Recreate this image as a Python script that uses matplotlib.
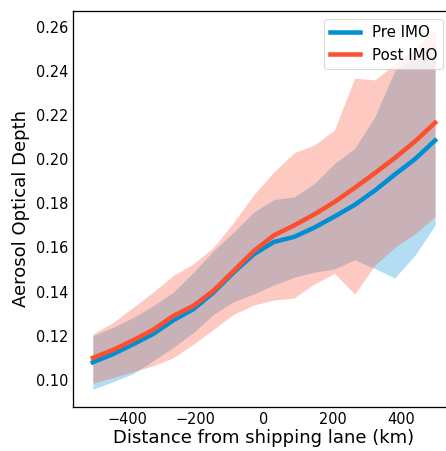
import matplotlib
matplotlib.use("Agg")
import matplotlib.pyplot as plt

# Data
distance_km = [-500, -441, -382, -324, -265, -206, -147, -88, -29, 29, 88, 147, 206, 265, 324, 382, 441, 500]

pre_mean = [0.108, 0.1117, 0.1162, 0.1208, 0.127, 0.1321, 0.1397, 0.1488, 0.157, 0.1625,
            0.1648, 0.169, 0.174, 0.1793, 0.1858, 0.193, 0.200, 0.2085]
post_mean = [0.110, 0.1136, 0.118, 0.1227, 0.129, 0.1336, 0.1405, 0.1495, 0.1585, 0.1655,
             0.170, 0.175, 0.1806, 0.187, 0.1937, 0.2005, 0.208, 0.2165]

pre_upper = [0.1200, 0.1238, 0.1283, 0.1336, 0.1397, 0.1488, 0.1586, 0.1670, 0.1761, 0.1817,
             0.1829, 0.1889, 0.1980, 0.2049, 0.2192, 0.2400, 0.2470, 0.2520]
pre_lower = [0.0958, 0.0992, 0.1029, 0.1086, 0.1147, 0.1215, 0.1298, 0.1355, 0.139, 0.1430,
             0.1465, 0.1488, 0.1503, 0.1544, 0.1505, 0.1462, 0.1564, 0.1700]
post_upper = [0.1208, 0.1260, 0.1329, 0.1397, 0.1473, 0.1526, 0.1601, 0.1715, 0.1840, 0.1942,
              0.2029, 0.2064, 0.2132, 0.2367, 0.2359, 0.2430, 0.2500, 0.2586]
post_lower = [0.0985, 0.1011, 0.1038, 0.1064, 0.1101, 0.1162, 0.1230, 0.1298, 0.134, 0.1362,
              0.1371, 0.1435, 0.1483, 0.1389, 0.1520, 0.1601, 0.1662, 0.1738]

series_labels = ["Pre IMO", "Post IMO"]
colors = ["#008fd5", "#fc4f30"]

DPI = 72
fig = plt.figure(figsize=(446 / DPI, 451 / DPI), dpi=DPI, facecolor="white")
W, H = 446, 451
left, right, top, bottom = 73.3, 454.6, 11, 406.7
ax = fig.add_axes([left / W, 1 - bottom / H, (right - left) / W, (bottom - top) / H])
ax.set_facecolor("white")

ax.fill_between(distance_km, pre_lower, pre_upper, color=colors[0], alpha=0.3, linewidth=0)
ax.fill_between(distance_km, post_lower, post_upper, color=colors[1], alpha=0.3, linewidth=0)
ax.plot(distance_km, pre_mean, color=colors[0], linewidth=4.5, label=series_labels[0])
ax.plot(distance_km, post_mean, color=colors[1], linewidth=4.5, label=series_labels[1])

ax.set_xlim(-557, 557)
ax.set_ylim(0.0879, 0.2671)
ax.set_xticks([-400, -200, 0, 200, 400])
ax.set_yticks([0.10, 0.12, 0.14, 0.16, 0.18, 0.20, 0.22, 0.24, 0.26])
ax.set_yticklabels(["0.10", "0.12", "0.14", "0.16", "0.18", "0.20", "0.22", "0.24", "0.26"])
ax.tick_params(axis="both", length=0, labelsize=14.5, pad=5)

for s in ax.spines.values():
    s.set_color("black")
    s.set_linewidth(1.3)

ax.set_xlabel("Distance from shipping lane (km)", fontsize=18, labelpad=2)
ax.set_ylabel("Aerosol Optical Depth", fontsize=18, labelpad=6)

ax.legend(loc="upper right", bbox_to_anchor=(443 / W, 1 - 19 / H),
          bbox_transform=fig.transFigure, borderaxespad=0, fontsize=15,
          fancybox=True, framealpha=0.8)

fig.savefig("out.png", dpi=DPI, facecolor="white")
